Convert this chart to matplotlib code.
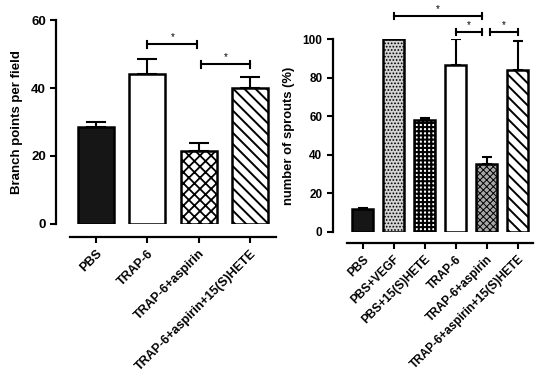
import matplotlib
matplotlib.use("Agg")
import matplotlib.pyplot as plt
import numpy as np

plt.rcParams['font.family'] = ['Liberation Sans', 'DejaVu Sans']
plt.rcParams['font.weight'] = 'bold'
plt.rcParams['axes.labelweight'] = 'bold'

# left panel data
left_cats = ["PBS", "TRAP-6", "TRAP-6+aspirin", "TRAP-6+aspirin+15(S)HETE"]
left_vals = [28.6, 44.1, 21.4, 40.1]
left_err = [1.3, 4.5, 2.3, 3.1]
left_hatch = [None, None, 'xxx', '\\\\\\']
left_face = ['#161616', 'white', 'white', 'white']

# right panel data
right_cats = ["PBS", "PBS+VEGF", "PBS+15(S)HETE", "TRAP-6", "TRAP-6+aspirin",
              "TRAP-6+aspirin+15(S)HETE"]
right_vals = [11.8, 100, 58, 86.5, 35, 84]
right_err = [0.6, 0, 1.2, 13.5, 4, 15]
right_hatch = [None, '.....', '++++', None, 'xxxxx', '\\\\\\']
right_face = ['#161616', '#d4d4d4', 'white', 'white', '#a8a8a8', 'white']

W, H = 540, 381
fig = plt.figure(figsize=(5.4, 3.81), dpi=100)


def px_axes(x0, x1, y0, y1):
    # y0 = pixel row of the value 0, y1 = pixel row of the top value
    return fig.add_axes([x0 / W, (H - y0) / H, (x1 - x0) / W, (y0 - y1) / H])


def bracket(ax, xa, xb, y, dy):
    ax.plot([xa, xb], [y, y], color='black', lw=1.5, clip_on=False)
    for xx in (xa, xb):
        ax.plot([xx, xx], [y - dy, y + dy], color='black', lw=1.5, clip_on=False)
    ax.text((xa + xb) / 2, y + dy * 0.6, '*', ha='center', va='bottom',
            fontsize=7, fontweight='normal', clip_on=False)


def style(ax, ticks, lo, hi, out_l, out_b, fs):
    for s in ('top', 'right'):
        ax.spines[s].set_visible(False)
    ax.spines['left'].set_position(('outward', out_l))
    ax.spines['bottom'].set_position(('outward', out_b))
    ax.spines['left'].set_linewidth(1.6)
    ax.spines['bottom'].set_linewidth(1.6)
    ax.set_ylim(lo, hi)
    ax.set_yticks(ticks)
    ax.tick_params(axis='both', width=1.5, length=4, labelsize=fs)


def draw_bars(ax, vals, err, faces, hatches, width, cap, hlw):
    x = np.arange(len(vals))
    bars = ax.bar(x, vals, width=width, color=faces, edgecolor='black', linewidth=1.8, zorder=2)
    for b, h, lw in zip(bars, hatches, hlw):
        if h:
            b.set_hatch(h)
            if hasattr(b, 'set_hatch_linewidth'):
                b.set_hatch_linewidth(lw)
    ax.errorbar(x, vals, yerr=[np.zeros(len(err)), err], fmt='none', ecolor='black',
                elinewidth=1.5, capsize=cap, capthick=1.5, zorder=1)
    return x


# left
ax1 = px_axes(70.25, 276, 223.5, 20.3)
x1 = draw_bars(ax1, left_vals, left_err, left_face, left_hatch, 0.7, 7,
               [1, 1, 1.3, 1.4])
ax1.set_xlim(-0.5, len(left_cats) - 0.5)
style(ax1, [0, 20, 40, 60], 0, 60, 10, 9.7, 9.5)
ax1.set_xticks(x1)
ax1.set_xticklabels(left_cats, rotation=45, ha='right', rotation_mode='anchor', fontsize=9)
ax1.set_ylabel("Branch points per field", fontsize=9.5, labelpad=6)
bracket(ax1, 1, 1.97, 52.9, 1.1)
bracket(ax1, 2.05, 3, 47.0, 1.1)

# right
ax2 = px_axes(347, 533, 232, 39)
x2 = draw_bars(ax2, right_vals, right_err, right_face, right_hatch, 0.68, 3.6,
               [1, 0.8, 1.5, 1, 0.7, 1.4])
ax2.set_xlim(-0.5, len(right_cats) - 0.5)
style(ax2, [0, 20, 40, 60, 80, 100], 0, 100, 10.3, 7.9, 8.5)
ax2.set_xticks(x2)
ax2.set_xticklabels(right_cats, rotation=45, ha='right', rotation_mode='anchor', fontsize=8.5)
ax2.set_ylabel("number of sprouts (%)", fontsize=9.4, labelpad=5)
bracket(ax2, 1, 3.85, 112, 1.6)
bracket(ax2, 3, 3.85, 103.6, 1.6)
bracket(ax2, 4.12, 5, 103.6, 1.6)

fig.savefig("out.png", dpi=100)
